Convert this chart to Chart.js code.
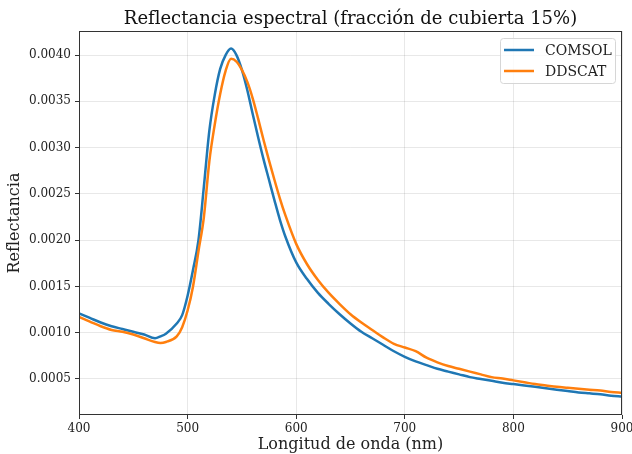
<!DOCTYPE html>
<html lang="es">
<head>
    <meta charset="UTF-8">
    <title>Reflectancia espectral</title>
    <script src="https://cdn.jsdelivr.net/npm/chart.js@4"></script>
    <style>
        body {
            margin: 0;
            background: #fff;
        }
        canvas {
            display: block;
        }
    </style>
</head>
<body>

    <canvas id="refChart" width="632" height="454"></canvas>

    <script>
        const chartTitle = 'Reflectancia espectral (fracción de cubierta 15%)';

        // longitudes de onda (nm)
        const wavelength = [
            400, 410, 420, 430, 440, 450, 460, 470, 475, 480, 490, 495,
            500, 505, 510, 515, 520, 525, 530, 535, 540, 545, 550, 555,
            560, 565, 570, 575, 580, 585, 590,
            600, 610, 620, 630, 640, 650, 660, 670, 680, 690,
            700, 710, 720, 730, 740, 750, 760, 770, 780, 790,
            800, 810, 820, 830, 840, 850, 860, 870, 880, 890, 900
        ];

        const comsol = [
            0.00121, 0.00116, 0.00111, 0.00107, 0.00104, 0.00101, 0.00098, 0.00094, 0.00096, 0.00099, 0.00110, 0.00119,
            0.00140, 0.00168, 0.00200, 0.00258, 0.00318, 0.00357, 0.00385, 0.00400, 0.00407, 0.00400, 0.00384, 0.00362,
            0.00336, 0.00311, 0.00287, 0.00265, 0.00243, 0.00222, 0.00204,
            0.00176, 0.00158, 0.00143, 0.00131, 0.00120, 0.00110, 0.00101, 0.00094, 0.00087, 0.00080,
            0.00074, 0.00069, 0.00065, 0.00061, 0.00058, 0.00055, 0.00052, 0.00050, 0.00048, 0.00046,
            0.000445, 0.00043, 0.000415, 0.00040, 0.000385, 0.00037, 0.000355, 0.000345, 0.000335, 0.00032, 0.00031
        ];

        const ddscat = [
            0.00117, 0.00112, 0.00107, 0.00103, 0.00101, 0.00098, 0.00094, 0.00090, 0.00089, 0.00090, 0.00096, 0.00106,
            0.00124, 0.00150, 0.00188, 0.00225, 0.00285, 0.00325, 0.00358, 0.00383, 0.00396, 0.00393, 0.00384, 0.00371,
            0.00353, 0.00331, 0.00308, 0.00286, 0.00265, 0.00245, 0.00227,
            0.00196, 0.00174, 0.00157, 0.00143, 0.00131, 0.00120, 0.00111, 0.00103, 0.00095, 0.00088,
            0.00084, 0.00080, 0.00073, 0.00068, 0.00064, 0.00061, 0.00058, 0.00055, 0.00052, 0.000505,
            0.000485, 0.000465, 0.000445, 0.00043, 0.000415, 0.000405, 0.000395, 0.000385, 0.000375, 0.00036, 0.00035
        ];

        const yTicks = [0.0005, 0.0010, 0.0015, 0.0020, 0.0025, 0.0030, 0.0035, 0.0040];

        Chart.defaults.font.family = "'DejaVu Serif', serif";
        Chart.defaults.color = '#222';

        const toPoints = (ys) => wavelength.map((x, i) => ({ x: x, y: ys[i] }));

        // titulo centrado sobre el area de ejes (como matplotlib)
        const axesTitle = {
            id: 'axesTitle',
            afterDraw(chart) {
                const { ctx, chartArea: a } = chart;
                ctx.save();
                ctx.font = "18px 'DejaVu Serif', serif";
                ctx.fillStyle = '#111';
                ctx.textAlign = 'center';
                ctx.textBaseline = 'middle';
                ctx.fillText(chartTitle, (a.left + a.right) / 2, 19);
                ctx.restore();
            }
        };

        // recuadro de ejes completo
        const frame = {
            id: 'frame',
            afterDatasetsDraw(chart) {
                const { ctx, chartArea: a } = chart;
                ctx.save();
                ctx.strokeStyle = '#333';
                ctx.lineWidth = 1;
                ctx.strokeRect(a.left + 0.5, a.top + 0.5, a.right - a.left - 1, a.bottom - a.top - 1);
                ctx.restore();
            }
        };

        // leyenda dentro del area de dibujo, arriba a la derecha
        const insideLegend = {
            id: 'insideLegend',
            afterDraw(chart) {
                const { ctx, chartArea: a } = chart;
                const sets = chart.data.datasets;
                const w = 115, rowH = 21;
                const h = sets.length * rowH + 3;
                const left = a.right - 7 - w;
                const top = a.top + 7;
                ctx.save();
                ctx.beginPath();
                ctx.roundRect(left + 0.5, top + 0.5, w, h, 3);
                ctx.fillStyle = 'rgba(255,255,255,0.8)';
                ctx.fill();
                ctx.strokeStyle = '#d6d6d6';
                ctx.lineWidth = 1;
                ctx.stroke();
                ctx.font = "14px 'DejaVu Serif', serif";
                ctx.textBaseline = 'middle';
                sets.forEach((ds, i) => {
                    const y = top + 12 + i * rowH;
                    ctx.beginPath();
                    ctx.moveTo(left + 4, y);
                    ctx.lineTo(left + 34, y);
                    ctx.strokeStyle = ds.borderColor;
                    ctx.lineWidth = 2.5;
                    ctx.stroke();
                    ctx.fillStyle = '#222';
                    ctx.fillText(ds.label, left + 45, y + 1);
                });
                ctx.restore();
            }
        };

        const chart = new Chart(document.getElementById('refChart'), {
            type: 'line',
            data: {
                datasets: [
                    {
                        label: 'COMSOL',
                        data: toPoints(comsol),
                        borderColor: '#1f77b4',
                        backgroundColor: '#1f77b4',
                        borderWidth: 2.5,
                        pointRadius: 0,
                        cubicInterpolationMode: 'monotone',
                        order: 1
                    },
                    {
                        label: 'DDSCAT',
                        data: toPoints(ddscat),
                        borderColor: '#ff7f0e',
                        backgroundColor: '#ff7f0e',
                        borderWidth: 2.5,
                        pointRadius: 0,
                        cubicInterpolationMode: 'monotone',
                        order: 0
                    }
                ]
            },
            options: {
                responsive: false,
                animation: false,
                layout: {
                    padding: { left: 0, right: 10, top: 31, bottom: 0 }
                },
                plugins: {
                    legend: { display: false },
                    tooltip: { enabled: false },
                    title: { display: false }
                },
                scales: {
                    x: {
                        type: 'linear',
                        min: 400,
                        max: 900,
                        ticks: {
                            stepSize: 100,
                            font: { size: 12 },
                            padding: 3,
                            maxRotation: 0
                        },
                        grid: {
                            color: 'rgba(0,0,0,0.09)',
                            tickColor: '#333',
                            tickLength: 4
                        },
                        border: { display: false },
                        title: {
                            display: true,
                            text: 'Longitud de onda (nm)',
                            font: { size: 16 },
                            padding: { top: 0, bottom: 0 }
                        },
                        afterFit(scale) {
                            scale.height = 39;
                            scale.paddingLeft = 0;
                            scale.paddingRight = 0;
                        }
                    },
                    y: {
                        type: 'linear',
                        min: 0.000111,
                        max: 0.00426,
                        afterBuildTicks(scale) {
                            scale.ticks = yTicks.map(v => ({ value: v }));
                        },
                        ticks: {
                            font: { size: 12 },
                            padding: 4,
                            callback: (v) => Number(v).toFixed(4)
                        },
                        grid: {
                            color: 'rgba(0,0,0,0.09)',
                            tickColor: '#333',
                            tickLength: 4
                        },
                        border: { display: false },
                        title: {
                            display: true,
                            text: 'Reflectancia',
                            font: { size: 16 },
                            padding: { top: 5, bottom: 0 }
                        },
                        afterFit(scale) {
                            scale.width = 79;
                            scale.paddingTop = 0;
                            scale.paddingBottom = 0;
                        }
                    }
                }
            },
            plugins: [axesTitle, frame, insideLegend]
        });
    </script>

</body>
</html>
